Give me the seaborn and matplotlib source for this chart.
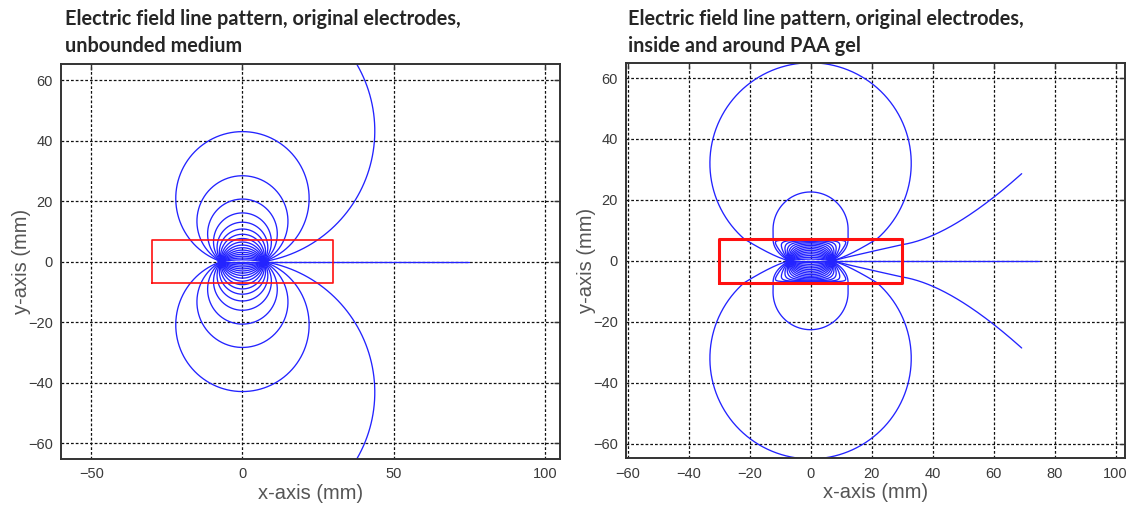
import numpy as np
import pandas as pd
import matplotlib
matplotlib.use("Agg")
import matplotlib.pyplot as plt
import seaborn as sns

# electrode positions on the x-axis (mm)
electrode_x = [-7.0, 7.0]

# launch angles (deg) of the field lines leaving the + electrode (upper half, mirrored below)
free_angles = [9.2, 18.5, 27.7, 37.4, 47.0, 56.5, 66.0, 75.5, 85.0,
               94.5, 104.0, 113.5, 123.0, 132.5, 142.0, 151.5, 161.0, 170.5]
gel_inner_angles = [37.4, 47.0, 56.5, 66.0, 75.5, 85.0, 94.5, 104.0,
                    113.5, 123.0, 132.5, 142.0, 151.5, 161.0, 170.5]
axis_line_end = 75.0

# PAA gel block outline (mm)
gel_x = [-30.0, 30.0]
gel_y = [-7.2, 7.2]

# gel case (upper right quarter, mirrored)
big_loop_circle = [32.0, 33.0]          # centre y, radius
big_loop_inside = [(7.0, 0.0), (12.0, 1.2), (21.77, 7.2)]
mid_loop_circle = [10.3, 12.3]          # centre y, radius
mid_loop_inside = [(7.0, 0.0), (12.3, 3.0), (12.3, 7.2)]
ray_inside = [(7.0, 0.0), (16.0, 2.2), (30.0, 5.3)]
ray_outside = [(30.0, 5.3), (46.0, 7.8), (69.2, 28.6)]

titles = ["Electric field line pattern, original electrodes,\nunbounded medium",
          "Electric field line pattern, original electrodes,\ninside and around PAA gel"]


def dipole_arc(alpha, a=7.0, n=500):
    al = np.radians(alpha)
    c = a / np.tan(al)
    r = np.hypot(a, c)
    p0 = np.arctan2(-c, a)
    p1 = np.arctan2(-c, -a)
    if p1 < p0:
        p1 += 2 * np.pi
    t = np.linspace(p0, p1, n)
    return r * np.cos(t), c + r * np.sin(t)


def bezier(pts, n=80):
    p = np.array(pts)
    t = np.linspace(0, 1, n)[:, None]
    q = (1 - t) ** 2 * p[0] + 2 * (1 - t) * t * p[1] + t ** 2 * p[2]
    return q[:, 0], q[:, 1]


def add(rows, name, x, y):
    for sgn, tag in [(1, "u"), (-1, "d")]:
        rows.append(pd.DataFrame({"x": x, "y": sgn * np.asarray(y), "line": f"{name}_{tag}"}))


# ---- unbounded medium
rows = []
for i, al in enumerate(free_angles):
    x, y = dipole_arc(al)
    out = np.nonzero(y > 66)[0]
    if len(out):
        x, y = x[:out[0] + 1], y[:out[0] + 1]
    add(rows, f"c{i}", x, y)
rows.append(pd.DataFrame({"x": [electrode_x[1], axis_line_end], "y": [0, 0], "line": "axis"}))
rows.append(pd.DataFrame({"x": electrode_x, "y": [0, 0], "line": "mid"}))
free_df = pd.concat(rows)

# ---- gel
rows = []
for i, al in enumerate(gel_inner_angles):
    x, y = dipole_arc(al)
    add(rows, f"g{i}", x, 6.9 * np.tanh(y / 6.9))

bx, by = bezier(big_loop_inside)
cy, r = big_loop_circle
t0 = np.arctan2(by[-1] - cy, bx[-1])
t = np.linspace(t0, np.pi - t0, 500)
x = np.concatenate([bx, r * np.cos(t), -bx[::-1]])
y = np.concatenate([by, cy + r * np.sin(t), by[::-1]])
add(rows, "big", x, y)

mx, my = bezier(mid_loop_inside)
cy, r = mid_loop_circle
t = np.linspace(0, np.pi, 300)
x = np.concatenate([mx, r * np.cos(t), -mx[::-1]])
y = np.concatenate([my, cy + r * np.sin(t), my[::-1]])
add(rows, "midloop", x, y)

ix, iy = bezier(ray_inside)
ox, oy = bezier(ray_outside)
add(rows, "ray", np.concatenate([ix, ox]), np.concatenate([iy, oy]))
rows.append(pd.DataFrame({"x": [electrode_x[1], axis_line_end], "y": [0, 0], "line": "axis"}))
rows.append(pd.DataFrame({"x": electrode_x, "y": [0, 0], "line": "mid"}))
gel_df = pd.concat(rows)

# ---- plot
sns.set_style("white")
plt.rcParams["font.family"] = ["Liberation Sans", "DejaVu Sans"]

fig = plt.figure(figsize=(11.31, 5.05), dpi=100)
ax1 = fig.add_axes([0.054, 0.091, 0.441, 0.782])
ax2 = fig.add_axes([0.5535, 0.0925, 0.441, 0.782])

blue = "#2323ff"
for ax, df, lw_box, xt, xl, yl in [
        (ax1, free_df, 1.2, [-50, 0, 50, 100], (-60, 105), (-65.3, 65.3)),
        (ax2, gel_df, 2.2, list(range(-60, 101, 20)), (-60.5, 103), (-64.8, 64.8))]:
    sns.lineplot(data=df, x="x", y="y", units="line", estimator=None, sort=False,
                 color=blue, linewidth=0.95, ax=ax, legend=False)
    ax.scatter(electrode_x, [0, 0], marker="*", s=70, color=blue, zorder=3, linewidths=0)
    ax.plot([gel_x[0], gel_x[1], gel_x[1], gel_x[0], gel_x[0]],
            [gel_y[0], gel_y[0], gel_y[1], gel_y[1], gel_y[0]], color="#ff1010", lw=lw_box)
    ax.set_xlim(*xl)
    ax.set_ylim(*yl)
    ax.set_xticks(xt)
    ax.set_yticks([-60, -40, -20, 0, 20, 40, 60])
    ax.grid(True, color="#111111", linestyle=(0, (2.2, 1.6)), linewidth=0.9)
    ax.set_axisbelow(True)
    ax.tick_params(direction="in", length=4, width=1, top=True, right=True,
                   labelsize=10.5, labelcolor="#3a3a3a", color="#333333", pad=6)
    for s in ax.spines.values():
        s.set_color("#333333")
        s.set_linewidth(1.4)
    ax.set_xlabel("x-axis (mm)", fontsize=14.5, color="#555555", labelpad=2)
    ax.set_ylabel("y-axis (mm)", fontsize=14.5, color="#555555", labelpad=-2)

fig.text(0.0575, 0.983, titles[0], ha="left", va="top", fontsize=14.3,
         fontweight="bold", family=["Lato", "DejaVu Sans"], linespacing=1.45)
fig.text(0.555, 0.983, titles[1], ha="left", va="top", fontsize=14.3,
         fontweight="bold", family=["Lato", "DejaVu Sans"], linespacing=1.45)

fig.savefig("out.png", dpi=100)
